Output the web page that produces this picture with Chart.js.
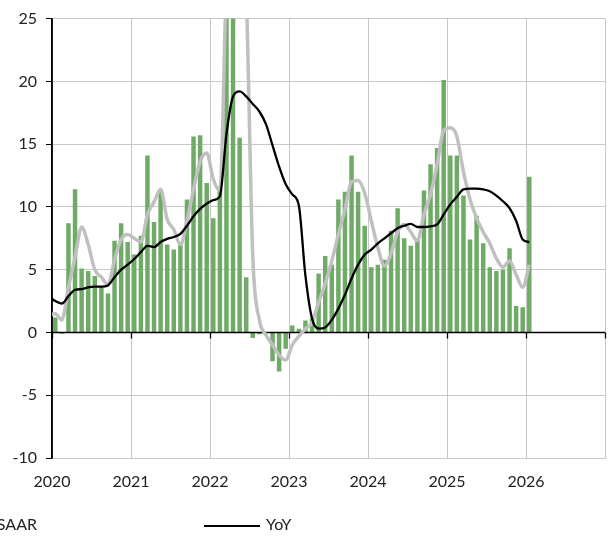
<!DOCTYPE html>
<html>
<head>
<meta charset="utf-8">
<script src="https://cdn.jsdelivr.net/npm/chart.js@4"></script>
<style>
  body { margin: 0; background: #fff; overflow: hidden; }
  #wrap { position: relative; width: 608px; height: 538px; overflow: hidden; }
  .lg { position: absolute; font: 16px Lato, sans-serif; color: #222; white-space: nowrap; line-height: 20px; }
  .lg i { display: inline-block; vertical-align: middle; width: 56px; margin-right: 6px; }
</style>
</head>
<body>
<div id="wrap">
  <canvas id="chart" width="608" height="538"></canvas>
  <div class="lg" style="right:571px; top:514px;"><i style="height:3px; background:#c0c0c0;"></i>3m SAAR</div>
  <div class="lg" style="left:204px; top:514px;"><i style="height:2.5px; background:#000;"></i>YoY</div>
</div>
<script>
//----------------------
// Data (monthly, bars from Jan 2020, lines from Dec 2019)
//----------------------

const yearLabels = ['2020', '2021', '2022', '2023', '2024', '2025', '2026'];
const yTicks = [-10, -5, 0, 5, 10, 15, 20, 25];

// monthly SAAR bars, Jan 2020 .. Jan 2026
const momSaar = [
  1.2, -0.1, 8.7, 11.4, 5.1, 4.9, 4.5, 3.7, 3.1, 7.3, 8.7, 7.2,
  6.2, 7.7, 14.1, 8.8, 11.2, 7.0, 6.6, 7.2, 10.6, 15.6, 15.7, 11.9,
  9.1, 11.5, 32, 30, 15.5, 4.4, -0.45, -0.15, 0, -2.3, -3.1, -1.3,
  0.55, 0.3, 0.95, 1.1, 4.7, 6.1, 5.4, 10.6, 11.2, 14.1, 11.2, 8.5,
  5.2, 5.4, 5.8, 8.1, 9.9, 7.5, 6.9, 7.4, 11.3, 13.4, 14.7, 20.1,
  14.1, 14.1, 10.9, 7.4, 9.3, 7.1, 5.2, 4.9, 5.0, 6.7, 2.1, 2.0,
  12.4
];

// 3m SAAR, Dec 2019 .. Jan 2026
const saar3m = [
  1.4,
  1.5, 1.0, 3.6, 6.0, 8.4, 7.0, 5.0, 4.4, 3.8, 5.8, 7.4, 7.8,
  7.5, 7.2, 9.4, 10.4, 11.4, 9.0, 8.2, 7.0, 8.9, 11.4, 13.6, 14.3,
  12.2, 11.3, 28, 36, 34, 27, 6.0, 1.0, -0.2, -1.0, -1.8, -2.2,
  -1.0, -0.3, 0.3, 0.8, 2.4, 3.9, 5.7, 7.8, 9.8, 12.0, 12.1, 11.1,
  8.9, 6.75, 5.3, 6.3, 8.0, 8.6, 8.0, 7.3, 9.4, 11.0, 13.4, 16.1,
  16.3, 15.6, 12.8, 10.6, 9.1, 8.0, 7.1, 5.9, 5.2, 5.7, 4.6, 3.6,
  5.4
];

// YoY, Dec 2019 .. Jan 2026
const yoy = [
  2.9,
  2.5, 2.3, 2.9, 3.4, 3.45, 3.6, 3.65, 3.65, 3.75, 4.4, 5.0, 5.4,
  5.85, 6.4, 6.9, 6.8, 7.2, 7.45, 7.6, 7.85, 8.5, 9.25, 9.85, 10.25,
  10.55, 10.85, 15.8, 18.8, 19.2, 18.8, 18.2, 17.6, 16.6, 14.9, 13.2, 11.8,
  11.0, 10.1, 4.5, 1.1, 0.3, 0.4, 1.0, 1.9, 3.0, 4.3, 5.4, 6.2,
  6.6, 7.1, 7.5, 7.9, 8.3, 8.5, 8.65, 8.4, 8.4, 8.45, 8.6, 9.4,
  10.2, 10.8, 11.4, 11.45, 11.45, 11.4, 11.25, 10.9, 10.45, 9.9, 8.9, 7.4,
  7.2
];

// x is months since Jan 2020, points sit mid-month
const toPoints = (vals, firstMonth) => vals.map((v, i) => ({ x: firstMonth + i + 0.5, y: v }));

//----------------------
// Zero line + year ticks, drawn over the bars but under the lines
//----------------------

const axisMarks = {
  id: 'axisMarks',
  afterDatasetDraw(chart, args) {
    if (args.index !== 0) return;
    const { ctx, chartArea, scales: { x, y } } = chart;
    const y0 = Math.round(y.getPixelForValue(0)) + 0.5;
    ctx.save();
    ctx.strokeStyle = '#000';
    ctx.lineWidth = 1.3;
    ctx.beginPath();
    ctx.moveTo(chartArea.left, y0);
    ctx.lineTo(chartArea.right, y0);
    x.ticks.forEach(t => {
      const px = Math.round(x.getPixelForValue(t.value)) + 0.5;
      ctx.moveTo(px, y0);
      ctx.lineTo(px, y0 + 6);
    });
    ctx.stroke();
    // y axis line on top of the x grid
    ctx.lineWidth = 1.5;
    ctx.beginPath();
    ctx.moveTo(chartArea.left, chartArea.top);
    ctx.lineTo(chartArea.left, chartArea.bottom);
    ctx.stroke();
    ctx.restore();
  }
};

Chart.defaults.font.family = 'Lato, sans-serif';
Chart.defaults.font.size = 16;
Chart.defaults.color = '#222';

const ctx = document.getElementById('chart').getContext('2d');
const chart = new Chart(ctx, {
  type: 'bar',
  data: {
    datasets: [
      {
        type: 'bar',
        label: 'MoM SAAR',
        data: toPoints(momSaar, 0),
        backgroundColor: '#6fab67',
        barPercentage: 0.68,
        categoryPercentage: 1,
        order: 2
      },
      {
        type: 'line',
        label: '3m SAAR',
        data: toPoints(saar3m, -1),
        borderColor: '#c0c0c0',
        borderWidth: 3.5,
        pointRadius: 0,
        cubicInterpolationMode: 'monotone',
        order: 1
      },
      {
        type: 'line',
        label: 'YoY',
        data: toPoints(yoy, -1),
        borderColor: '#000',
        borderWidth: 2.3,
        pointRadius: 0,
        cubicInterpolationMode: 'monotone',
        order: 0
      }
    ]
  },
  options: {
    responsive: false,
    animation: false,
    devicePixelRatio: 1,
    layout: { padding: { top: 17, right: 3, left: 0, bottom: 0 } },
    plugins: { legend: { display: false }, tooltip: { enabled: false } },
    scales: {
      x: {
        type: 'linear',
        min: 0,
        max: 84,
        offset: false,
        afterFit: s => { s.height = 80; s.paddingRight = 0; s.paddingLeft = 0; },
        afterBuildTicks: s => { s.ticks = yearLabels.map((_, i) => ({ value: i * 12 })).concat([{ value: 84 }]); },
        ticks: {
          padding: 14,
          maxRotation: 0,
          autoSkip: false,
          callback: v => yearLabels[v / 12] || ''
        },
        grid: { color: '#c8c8c8', lineWidth: 1, drawTicks: false, offset: false },
        border: { color: '#c8c8c8' }
      },
      y: {
        min: -10,
        max: 25,
        afterFit: s => { s.width = 52; },
        afterBuildTicks: s => { s.ticks = yTicks.map(v => ({ value: v })); },
        ticks: { padding: 9 },
        grid: { color: '#c8c8c8', lineWidth: 1, tickColor: '#000', tickLength: 6 },
        border: { color: '#000', width: 1.5 }
      }
    }
  },
  plugins: [axisMarks]
});
</script>
</body>
</html>
